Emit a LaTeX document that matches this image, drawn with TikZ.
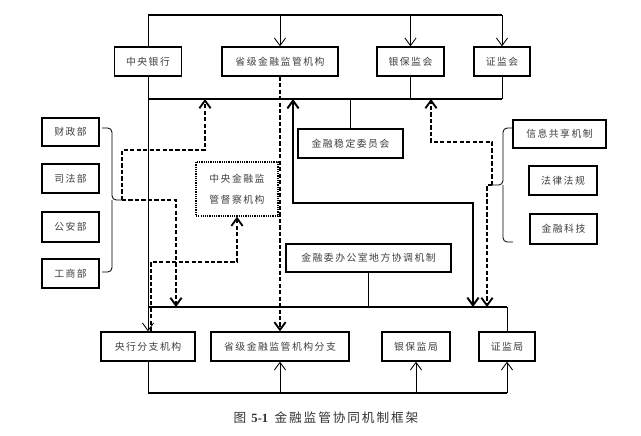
\documentclass[tikz,border=0pt]{standalone}
\usepackage{fontspec}
\setmainfont{Liberation Serif}
\newfontfamily\cjk[LetterSpace=15]{Noto Sans CJK SC}
\usetikzlibrary{arrows.meta}

\begin{document}
\begin{tikzpicture}[x=0.025cm, y=-0.025cm,
  >={Straight Barb[length=5.5pt,width=8pt]},
  box/.style 2 args={draw, line width=0.9pt, inner sep=0pt, text=black!75,
    font=\cjk\fontsize{7}{15}\selectfont, align=center,
    minimum width=#1*0.025cm, minimum height=#2*0.025cm},
  line/.style={line width=0.6pt},
  bus/.style={line width=1.2pt},
  tline/.style={line width=1.4pt},
  dline/.style={line width=1.3pt, dash pattern=on 3pt off 1.6pt}]

\useasboundingbox[fill=white] (0,0) rectangle (641,436);

% top row
\node[box={67}{29}] (zyyh) at (148,61.5) {中央银行};
\node[box={116}{29}] (sj) at (280,61.5) {省级金融监管机构};
\node[box={67}{29}] (ybjh) at (410.5,61.5) {银保监会};
\node[box={56}{29}] (zjh) at (502,61.5) {证监会};

% middle
\node[box={105}{29}] (wdw) at (350.5,143.5) {金融稳定委员会};
\node[box={82}{54}, dash pattern=on 0.8pt off 0.8pt] (dc) at (237,189) {中央金融监\\管督察机构};
\node[box={165}{28}] (xt) at (368.5,258) {金融委办公室地方协调机制};

% left side
\node[box={57}{28}] (cz) at (70.5,132) {财政部};
\node[box={57}{29}] (sf) at (70.5,178.5) {司法部};
\node[box={57}{30}] (ga) at (70.5,227) {公安部};
\node[box={57}{29}] (gs) at (70.5,273.5) {工商部};

% right side
\node[box={93}{28}] (xx) at (559.5,134) {信息共享机制};
\node[box={68}{29}] (fl) at (563,180.5) {法律法规};
\node[box={67}{30}] (kj) at (563.5,229) {金融科技};

% bottom row
\node[box={94}{29}] (yhfz) at (148,346.5) {央行分支机构};
\node[box={138}{29}] (sjfz) at (280,346.5) {省级金融监管机构分支};
\node[box={68}{29}] (ybjj) at (416,346.5) {银保监局};
\node[box={56}{29}] (zjj) at (507,346.5) {证监局};

\node[font=\fontsize{9}{11}\selectfont, text=black!80] (cap) at (326,418)
  {{\cjk 图}\ \textbf{5-1}\enspace{\cjk 金融监管协同机制框架}};

\coordinate (t1) at (148,15);
\coordinate (t2) at (502,15);
\coordinate (m1) at (148,99);
\coordinate (m2) at (502,99);
\coordinate (b1) at (148,307);
\coordinate (b2) at (507,307);
\coordinate (d1) at (148,393);
\coordinate (d2) at (507,393);

% buses
\draw[line] (zyyh.north) -- (t1);
\draw[bus] (t1) -- (t2);
\foreach \n in {sj,ybjh,zjh}
  \draw[line,->] (\n.north |- t1) -- (\n.north);

\draw[bus] (m1) -- (m2);
\foreach \n in {ybjh,zjh}
  \draw[line] (\n.south) -- (\n.south |- m1);
\draw[line] (wdw.north) -- (wdw.north |- m1);
\draw[line,->] (zyyh.south) -- (yhfz.north);

\draw[bus] (b1) -- (b2);
\draw[line] (b2) -- (zjj.north);
\draw[line] (xt.south) -- (xt.south |- b1);

\draw[line] (yhfz.south) -- (d1);
\draw[bus] (d1) -- (d2);
\foreach \n in {sjfz,ybjj,zjj}
  \draw[line,->] (\n.south |- d1) -- (\n.south);

% thick two-way link
\coordinate (k1) at (293,203);
\coordinate (k2) at (473,203);
\draw[tline,<->] (k1 |- m1) -- (k1) -- (k2) -- (k2 |- b1);

\draw[dline,->] (sj.south) -- (sj.south |- sjfz.north);

% left brace and its links
\coordinate (lb) at (122,200);
\draw[line, rounded corners=3] (102,128) -- (112,128) -- (112,200) -- (lb);
\draw[line, rounded corners=3] (112,200) -- (112,272) -- (102,272);

\coordinate (l1) at (122,150);
\coordinate (l2) at (205,150);
\draw[dline,->] (lb) -- (l1) -- (l2) -- (l2 |- m1);
\coordinate (l3) at (176,200);
\draw[dline,->] (lb) -- (l3) -- (l3 |- b1);
\coordinate (l4) at (151,262);
\draw[dline,->] (l4 |- yhfz.north) -- (l4) -- (l4 -| dc.south) -- (dc.south);

% right brace and its links
\coordinate (rb) at (492,185);
\draw[line, rounded corners=3] (513,128) -- (503,128) -- (503,185) -- (rb);
\draw[line, rounded corners=3] (503,185) -- (503,242) -- (513,242);

\coordinate (r1) at (492,142);
\coordinate (r2) at (431,142);
\coordinate (r3) at (487,185);
\draw[dline,->] (rb) -- (r1) -- (r2) -- (r2 |- m1);
\draw[dline,->] (rb) -- (r3) -- (r3 |- b1);

\end{tikzpicture}
\end{document}
